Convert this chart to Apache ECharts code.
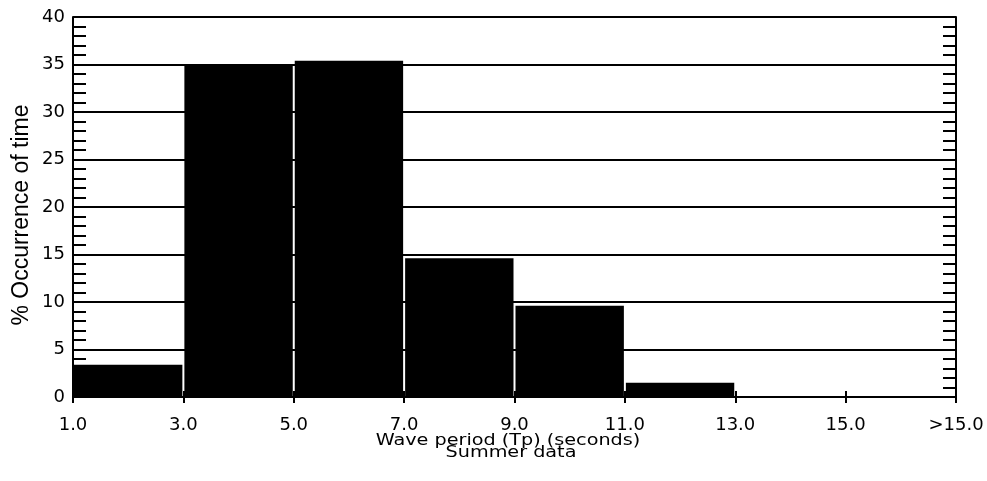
<!DOCTYPE html>
<html>
<head>
<meta charset="utf-8">
<script src="https://cdn.jsdelivr.net/npm/echarts@6/dist/echarts.min.js"></script>
<style>
  html, body { margin: 0; padding: 0; background: #fff; }
  #chart { width: 987px; height: 481px; }
</style>
</head>
<body>
<div id="chart"></div>
<script>
// Wave period bins (seconds); the last bin stands for periods above 15 s
const binStart = [1, 3, 5, 7, 9, 11, 13, 15];
const binEnd = [3, 5, 7, 9, 11, 13, 15, 17];
// Percentage of time in each period bin, summer record
const occurrence = [3.4, 34.9, 35.4, 14.6, 9.6, 1.5, 0, 0];
// Labels on the period axis, one per bin edge
const periodTickValues = [1, 3, 5, 7, 9, 11, 13, 15, 17];
const periodTickLabels = ['1.0', '3.0', '5.0', '7.0', '9.0', '11.0', '13.0', '15.0', '>15.0'];
// Axis titles
const xTitle = 'Wave period (Tp) (seconds)';
const xSubtitle = 'Summer data';
const yTitle = '% Occurrence of time';

const FONT = 'DejaVu Sans';
const bins = binStart.map((s, i) => [s, binEnd[i], occurrence[i]]);

const chart = echarts.init(document.getElementById('chart'), null, { renderer: 'canvas' });

const lineStyle = { color: '#000', width: 2 };

chart.setOption({
  animation: false,
  backgroundColor: '#fff',
  grid: { left: 73, right: 31, top: 17, bottom: 84, containLabel: false },
  xAxis: [
    {
      type: 'value', position: 'bottom', min: 1, max: 17, interval: 2,
      axisLine: { show: true, lineStyle: lineStyle },
      axisTick: { show: true, length: 6, lineStyle: { color: '#000', width: 2 } },
      splitLine: { show: false },
      axisLabel: {
        color: '#000', fontFamily: FONT, fontSize: 18, margin: 19,
        formatter: v => periodTickLabels[periodTickValues.indexOf(v)] || ''
      }
    },
    {
      type: 'value', position: 'top', min: 1, max: 17, interval: 2,
      axisLine: { show: true, lineStyle: lineStyle },
      axisTick: { show: true, length: 6, lineStyle: { color: '#000', width: 2 } },
      axisLabel: { show: false },
      splitLine: { show: false }
    }
  ],
  yAxis: [
    {
      type: 'value', position: 'left', min: 0, max: 40, interval: 5,
      axisLine: { show: true, lineStyle: lineStyle },
      axisTick: { show: true, inside: true, length: 13, lineStyle: { color: '#000', width: 2 } },
      minorTick: { show: true, splitNumber: 5, length: 13, lineStyle: { color: '#000', width: 2 } },
      splitLine: { show: true, lineStyle: { color: '#000', width: 2 } },
      axisLabel: { color: '#000', fontFamily: FONT, fontSize: 18, margin: 8 }
    },
    {
      type: 'value', position: 'right', min: 0, max: 40, interval: 5,
      axisLine: { show: true, lineStyle: lineStyle },
      axisTick: { show: true, inside: true, length: 13, lineStyle: { color: '#000', width: 2 } },
      minorTick: { show: true, splitNumber: 5, length: 13, lineStyle: { color: '#000', width: 2 } },
      splitLine: { show: false },
      axisLabel: { show: false }
    }
  ],
  graphic: [
    {
      type: 'text', x: 508, y: 441, scaleX: 1.2,
      style: {
        text: xTitle, fill: '#000', font: '16px "DejaVu Sans"',
        textAlign: 'center', textVerticalAlign: 'middle'
      }
    },
    {
      type: 'text', x: 511, y: 453, scaleX: 1.2,
      style: {
        text: xSubtitle, fill: '#000', font: '16px "DejaVu Sans"',
        textAlign: 'center', textVerticalAlign: 'middle'
      }
    },
    {
      type: 'text', x: 22, y: 215, rotation: Math.PI / 2,
      style: {
        text: yTitle, fill: '#000', font: '23px "Liberation Sans"',
        textAlign: 'center', textVerticalAlign: 'middle'
      }
    }
  ],
  series: [
    {
      type: 'custom',
      xAxisIndex: 0, yAxisIndex: 0,
      data: bins,
      encode: { x: [0, 1], y: 2 },
      renderItem: function (params, api) {
        const top = api.coord([api.value(0), api.value(2)]);
        const base = api.coord([api.value(1), 0]);
        const h = base[1] - top[1];
        if (h <= 0) return null;
        return {
          type: 'rect',
          shape: { x: top[0] + 1, y: top[1], width: base[0] - top[0] - 2, height: h },
          style: { fill: '#000' }
        };
      },
      z: 5
    }
  ]
});
</script>
</body>
</html>
